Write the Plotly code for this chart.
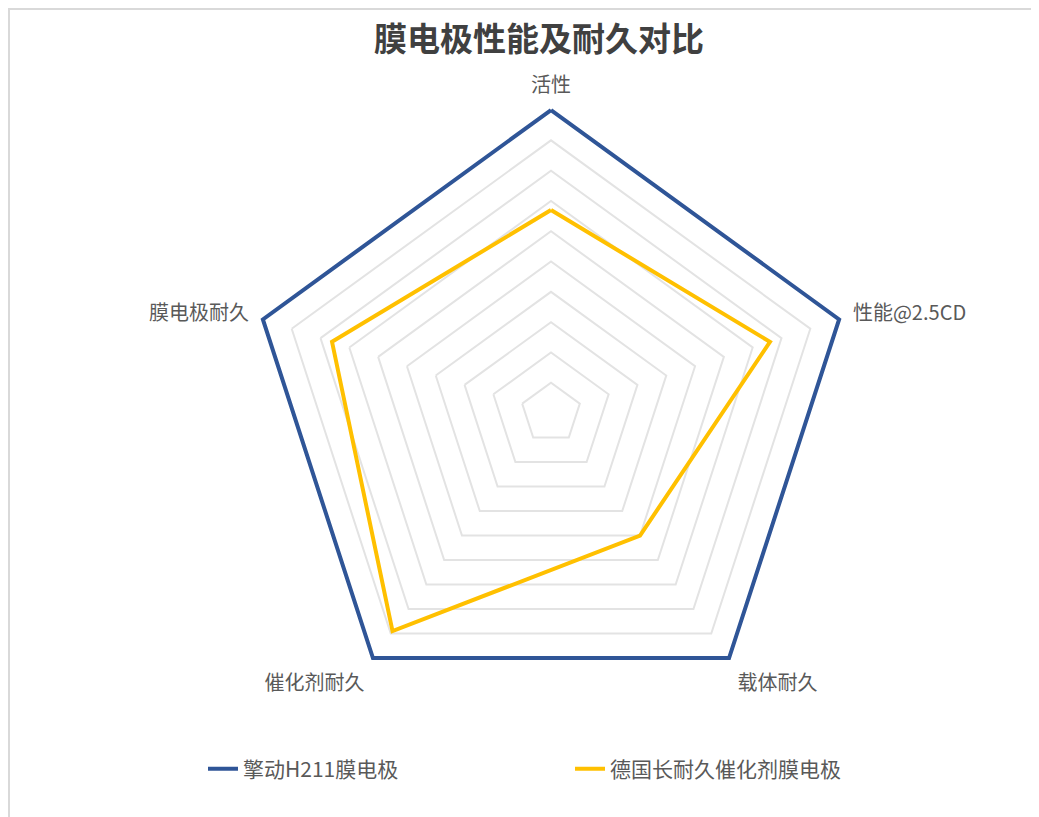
import plotly.graph_objects as go

# 雷达图的五个维度（顺时针，从顶部开始）
categories = ['活性', '性能@2.5CD', '载体耐久', '催化剂耐久', '膜电极耐久']

# 两种膜电极的得分（0-10）
qingdong_h211 = [10, 10, 10, 10, 10]
german_long_life = [6.7, 7.6, 5.0, 8.9, 7.6]

series_names = ['擎动H211膜电极', '德国长耐久催化剂膜电极']
series_colors = ['#2F5597', '#FFC000']

font_family = 'Noto Sans CJK SC, Microsoft YaHei, sans-serif'
W, H = 1039, 817

fig = go.Figure()

for name, values, color in zip(series_names, [qingdong_h211, german_long_life], series_colors):
    # close the polygon
    fig.add_trace(go.Scatterpolar(
        r=values + values[:1],
        theta=categories + categories[:1],
        mode='lines',
        name=name,
        line=dict(color=color, width=4),
        cliponaxis=False,
        hoverinfo='skip',
    ))

fig.update_layout(
    width=W,
    height=H,
    paper_bgcolor='white',
    plot_bgcolor='white',
    margin=dict(l=0, r=0, t=0, b=0),
    font=dict(family=font_family, color='#595959', size=20),
    title=dict(
        text='<b>膜电极性能及耐久对比</b>',
        x=531 / W, xanchor='center',
        y=1 - 31 / H, yanchor='middle',
        font=dict(size=33, color='#404040', family=font_family),
    ),
    polar=dict(
        # range slightly past 10 so the outer blue line is not clipped
        domain=dict(x=[234 / W, 852 / W], y=[1 - 714 / H, 1 - 96 / H]),
        bgcolor='white',
        gridshape='linear',
        radialaxis=dict(
            range=[0, 10.2],
            tickvals=[1, 2, 3, 4, 5, 6, 7, 8, 9, 10],
            showticklabels=False,
            ticks='',
            showline=False,
            gridcolor='#E3E3E3',
            gridwidth=1.5,
        ),
        angularaxis=dict(
            rotation=90,
            direction='clockwise',
            showgrid=False,
            showline=False,
            ticks='outside',
            ticklen=4,
            tickcolor='rgba(0,0,0,0)',
            tickfont=dict(size=20, color='#595959'),
        ),
    ),
    legend=dict(
        orientation='h',
        x=195 / W, xanchor='left',
        y=1 - 761 / H, yanchor='middle',
        entrywidth=322,
        entrywidthmode='pixels',
        font=dict(size=21, color='#595959'),
    ),
    shapes=[dict(
        type='rect', xref='paper', yref='paper',
        x0=1 / W, x1=1 - 1 / W, y0=1 / H, y1=1 - 1 / H,
        line=dict(color='#D9D9D9', width=2),
    )],
)

fig.write_html("out.html")
